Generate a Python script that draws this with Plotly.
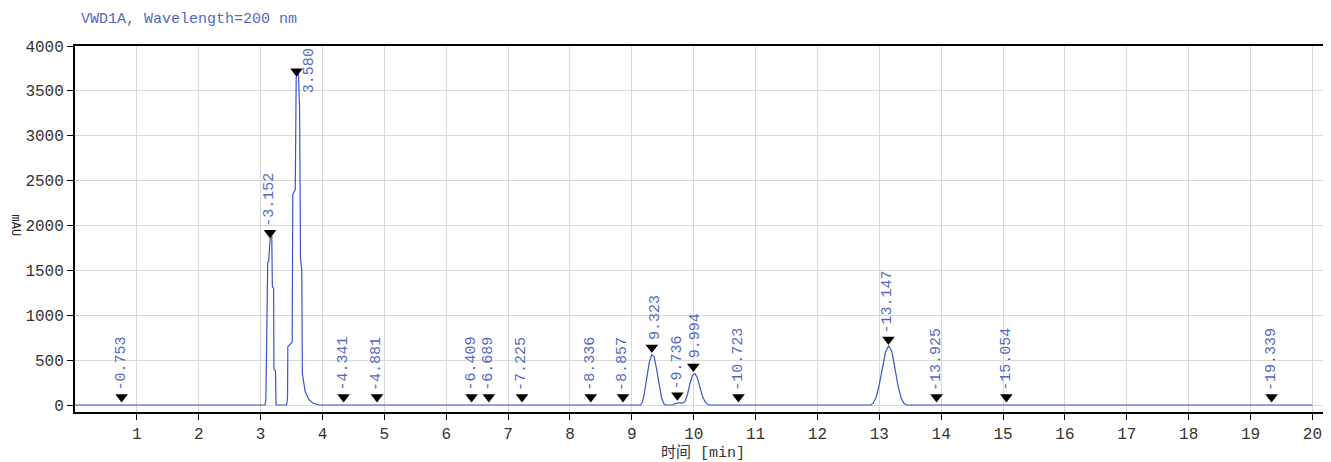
import plotly.graph_objects as go

# ---- data ----
signal_time = [0.0, 3.07, 3.085, 3.095, 3.115, 3.13, 3.16, 3.18, 3.19, 3.21, 3.215, 3.24, 3.25,
               3.42, 3.435, 3.44, 3.51, 3.52, 3.56, 3.575, 3.61, 3.63, 3.645, 3.665, 3.675, 3.72, 3.78, 3.85, 3.94,
               9.14, 9.17, 9.20, 9.24, 9.28, 9.32, 9.36, 9.40, 9.44, 9.48, 9.52, 9.55,
               9.66, 9.70, 9.76, 9.82, 9.86, 9.90, 9.94, 9.98, 10.02, 10.06, 10.10, 10.14, 10.18, 10.23, 10.26,
               12.86, 12.90, 12.95, 13.00, 13.05, 13.10, 13.15, 13.20, 13.25, 13.30, 13.35, 13.40, 13.44, 20.0]
signal_mau = [0, 0, 50, 500, 1590, 1600, 1920, 1900, 1320, 1300, 400, 380, 0,
              0, 80, 650, 700, 2350, 2400, 3650, 3720, 3300, 1620, 1510, 350, 150, 60, 20, 0,
              0, 30, 120, 300, 470, 560, 540, 400, 220, 80, 10, 0,
              0, 15, 25, 20, 40, 120, 240, 330, 350, 300, 200, 100, 40, 5, 0,
              0, 20, 90, 230, 420, 590, 660, 600, 420, 220, 80, 15, 0, 0]

peak_times = [0.753, 3.152, 3.580, 4.341, 4.881, 6.409, 6.689, 7.225, 8.336, 8.857,
              9.323, 9.736, 9.994, 10.723, 13.147, 13.925, 15.054, 19.339]
peak_heights = [0, 1830, 3630, 0, 0, 0, 0, 0, 0, 0,
                550, 20, 340, 0, 640, 0, 0, 0]
peak_labels = ["0.753", "3.152", "3.580", "4.341", "4.881", "6.409", "6.689", "7.225", "8.336", "8.857",
               "9.323", "9.736", "9.994", "10.723", "13.147", "13.925", "15.054", "19.339"]

x_ticks = list(range(1, 21))
y_ticks = list(range(0, 4001, 500))

title_text = "VWD1A, Wavelength=200 nm"
x_title = "时间 [min]"
y_title = "mAU"

# ---- styling ----
LINE_BLUE = "#3a55c8"
LABEL_BLUE = "#5268c4"
MONO = "Liberation Mono, DejaVu Sans Mono, monospace"
MARK_OFFSET = 90  # triangle sits just above the apex

fig = go.Figure()
fig.add_trace(go.Scatter(x=signal_time, y=signal_mau, mode="lines",
                         line=dict(color=LINE_BLUE, width=1.2), hoverinfo="skip", showlegend=False))

marker_y = [h + MARK_OFFSET for h in peak_heights]
fig.add_trace(go.Scatter(x=peak_times, y=marker_y, mode="markers",
                         marker=dict(symbol="triangle-down", size=11, color="black"),
                         showlegend=False, hoverinfo="skip"))

for t, my, lab in zip(peak_times, marker_y, peak_labels):
    if lab == "3.580":
        fig.add_annotation(x=t, y=my, text=lab, textangle=-90, showarrow=False,
                           xanchor="left", yanchor="middle", xshift=2, yshift=0,
                           font=dict(family=MONO, size=15, color=LABEL_BLUE))
    elif lab in ("9.994", "9.323"):
        fig.add_annotation(x=t, y=my, text=lab, textangle=-90, showarrow=False,
                           xanchor="center", yanchor="bottom", xshift=3, yshift=6,
                           font=dict(family=MONO, size=15, color=LABEL_BLUE))
    else:
        fig.add_annotation(x=t, y=my, text="-" + lab, textangle=-90, showarrow=False,
                           xanchor="center", yanchor="bottom", xshift=0, yshift=4,
                           font=dict(family=MONO, size=15, color=LABEL_BLUE))

fig.add_annotation(xref="paper", yref="paper", x=0.003, y=1.0, yshift=16, text=title_text,
                   showarrow=False, xanchor="left", yanchor="bottom",
                   font=dict(family=MONO, size=15, color=LABEL_BLUE))

fig.add_annotation(xref="paper", yref="y", x=0, xshift=-60, y=2000, text=y_title, textangle=90,
                   showarrow=False, xanchor="center", yanchor="middle",
                   font=dict(family=MONO, size=12, color="#222222"))

fig.update_layout(
    width=1323, height=454,
    margin=dict(l=67, r=0, t=38, b=50),
    paper_bgcolor="white", plot_bgcolor="white",
    xaxis=dict(range=[0, 20.3], tickvals=x_ticks, ticks="outside", ticklen=6, tickcolor="black",
               showline=True, linecolor="black", linewidth=2, mirror=True,
               showgrid=True, gridcolor="#d9d9d9", gridwidth=1, zeroline=False,
               tickfont=dict(family=MONO, size=16, color="#333333"),
               title=dict(text=x_title, standoff=0,
                          font=dict(family="Liberation Mono, Noto Sans CJK SC", size=15, color="#333333"))),
    yaxis=dict(range=[-78, 4000], tickvals=y_ticks, ticks="outside", ticklen=6, tickcolor="black",
               showline=True, linecolor="black", linewidth=2, mirror=False,
               showgrid=True, gridcolor="#d9d9d9", gridwidth=1, zeroline=False,
               tickfont=dict(family=MONO, size=16, color="#333333")),
)

fig.write_html("out.html")
